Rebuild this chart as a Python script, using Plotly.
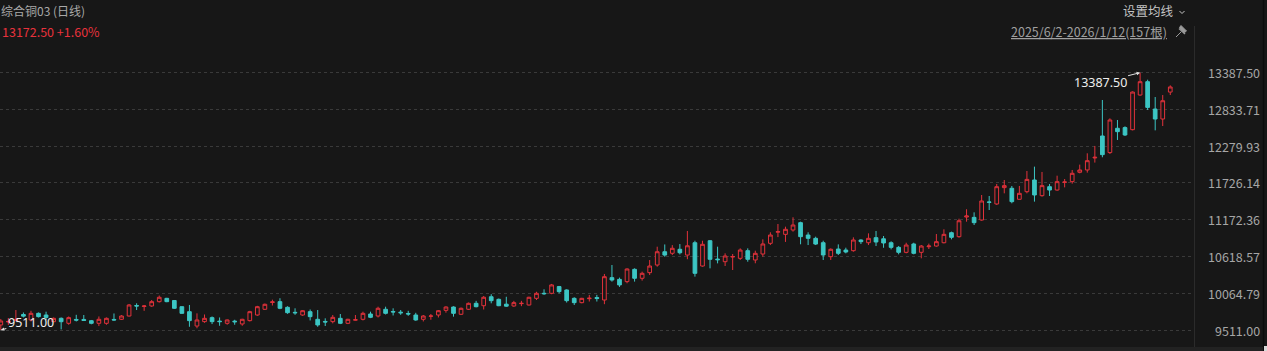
import plotly.graph_objects as go

# ---- data (OHLC; index 0 is the first bar, just off the left edge) ----
opens = [9620,
 9587, 9632, 9655, 9745, 9662, 9762, 9737, 9636, 9687, 9612,
 9670, 9670, 9651, 9612, 9612, 9670, 9672, 9722, 9880, 9865,
 9873, 9938, 9988, 9955, 9862, 9787, 9571, 9637, 9697, 9645,
 9612, 9645, 9602, 9652, 9737, 9823, 9925, 9938, 9853, 9777,
 9737, 9787, 9672, 9640, 9637, 9687, 9612, 9660, 9672, 9752,
 9722, 9823, 9790, 9780, 9760, 9737, 9672, 9718, 9737, 9807,
 9857, 9748, 9823, 9913, 9877, 10012, 9973, 9900, 9873, 9908,
 9888, 9988, 10064, 10064, 10165, 10114, 9988, 9923, 9983, 10000,
 9963, 10300, 10274, 10240, 10425, 10290, 10375, 10490, 10690, 10667,
 10727, 10640, 10826, 10475, 10856, 10580, 10540, 10610, 10591, 10706,
 10566, 10656, 10817, 10985, 10952, 11018, 11128, 10942, 10892, 10826,
 10616, 10731, 10716, 10706, 10867, 10826, 10902, 10885, 10826, 10756,
 10681, 10807, 10681, 10766, 10776, 10826, 10977, 10917, 11213, 11208,
 11168, 11440, 11410, 11656, 11646, 11480, 11595, 11771, 11535, 11670,
 11620, 11736, 11746, 11887, 11922, 12103, 12434, 12184, 12550, 12560,
 12529, 13051, 13252, 12840, 12690, 13096]
highs = [9650,
 9677, 9692, 9812, 9775, 9800, 9775, 9787, 9700, 9700, 9715,
 9740, 9737, 9662, 9715, 9700, 9760, 9735, 9903, 9913, 9888,
 9963, 10030, 9995, 9963, 9868, 9888, 9762, 9745, 9715, 9700,
 9670, 9665, 9680, 9800, 9875, 9910, 9968, 9990, 9868, 9838,
 9810, 9820, 9812, 9687, 9737, 9752, 9680, 9737, 9787, 9787,
 9862, 9862, 9838, 9812, 9800, 9770, 9737, 9752, 9812, 9868,
 9868, 9850, 9925, 9950, 10023, 10050, 9985, 10012, 9950, 9950,
 10012, 10087, 10124, 10205, 10175, 10124, 10004, 9995, 10040, 10040,
 10355, 10490, 10300, 10440, 10440, 10390, 10565, 10766, 10800, 10790,
 10806, 11003, 10856, 10856, 10866, 10766, 10666, 10656, 10741, 10741,
 10706, 10877, 10983, 11108, 11068, 11209, 11143, 10983, 10917, 10856,
 10741, 10801, 10751, 10907, 10877, 10967, 11003, 10927, 10847, 10776,
 10826, 10826, 10791, 10812, 10957, 11028, 10993, 11188, 11330, 11284,
 11545, 11530, 11711, 11771, 11681, 11681, 11907, 11972, 11892, 11711,
 11836, 11786, 11922, 12003, 12173, 12284, 12976, 12700, 12675, 12580,
 13106, 13387.5, 13282, 13021, 13051, 13197]
lows = [9560,
 9511, 9587, 9640, 9700, 9640, 9700, 9662, 9625, 9520, 9590,
 9640, 9650, 9597, 9570, 9590, 9650, 9662, 9715, 9812, 9800,
 9860, 9925, 9930, 9828, 9755, 9560, 9537, 9620, 9600, 9575,
 9590, 9590, 9575, 9640, 9725, 9812, 9880, 9825, 9755, 9740,
 9725, 9655, 9560, 9571, 9611, 9600, 9600, 9655, 9655, 9690,
 9700, 9745, 9730, 9740, 9725, 9650, 9640, 9665, 9700, 9772,
 9712, 9737, 9812, 9852, 9820, 9913, 9870, 9860, 9860, 9870,
 9880, 9963, 10040, 10050, 10064, 9925, 9888, 9913, 9940, 9940,
 9900, 10240, 10160, 10215, 10240, 10255, 10340, 10465, 10615, 10640,
 10650, 10577, 10315, 10465, 10440, 10515, 10475, 10415, 10566, 10540,
 10516, 10616, 10791, 10911, 10838, 10993, 10802, 10791, 10791, 10566,
 10566, 10641, 10666, 10691, 10806, 10791, 10776, 10750, 10726, 10651,
 10666, 10651, 10591, 10731, 10766, 10816, 10877, 10902, 11143, 11093,
 11158, 11319, 11395, 11570, 11420, 11480, 11570, 11445, 11520, 11530,
 11610, 11660, 11716, 11872, 11882, 12033, 12113, 12163, 12374, 12434,
 12519, 13041, 12826, 12519, 12584, 13051]
closes = [9600,
 9647, 9640, 9670, 9720, 9762, 9712, 9700, 9687, 9636, 9697,
 9660, 9655, 9612, 9672, 9687, 9662, 9722, 9888, 9872, 9873,
 9938, 10004, 9938, 9838, 9762, 9652, 9662, 9687, 9637, 9637,
 9662, 9635, 9672, 9787, 9862, 9898, 9935, 9838, 9772, 9770,
 9802, 9712, 9587, 9632, 9702, 9612, 9672, 9665, 9762, 9702,
 9838, 9762, 9783, 9770, 9752, 9662, 9722, 9722, 9802, 9857,
 9762, 9838, 9913, 9862, 10004, 9953, 9877, 9870, 9923, 9913,
 10004, 10064, 10058, 10190, 10089, 9953, 9923, 9988, 9990, 9985,
 10314, 10264, 10190, 10430, 10290, 10365, 10475, 10690, 10640, 10742,
 10675, 10780, 10365, 10802, 10576, 10570, 10626, 10618, 10716, 10576,
 10666, 10807, 10942, 10992, 11028, 11093, 10917, 10892, 10806, 10641,
 10727, 10666, 10686, 10867, 10842, 10892, 10837, 10822, 10756, 10681,
 10791, 10666, 10776, 10776, 10842, 10952, 10907, 11157, 11228, 11128,
 11455, 11435, 11670, 11686, 11445, 11570, 11780, 11545, 11686, 11620,
 11746, 11741, 11872, 11922, 12062, 12113, 12153, 12675, 12499, 12449,
 13096, 13252, 12865, 12690, 12965, 13172.5]
bars = list(range(len(closes)))

y_ticks = [9511.00, 10064.79, 10618.57, 11172.36, 11726.14, 12279.93, 12833.71, 13387.50]
y_tick_labels = ["9511.00", "10064.79", "10618.57", "11172.36", "11726.14", "12279.93", "12833.71", "13387.50"]

title_text = "综合铜03 (日线)"
price_text = "13172.50 +1.60%"
range_text = "2025/6/2-2026/1/12(157根)"
ma_text = "设置均线"

# ---- styling / layout ----
BG = "#171717"
RED = "#e2323b"
TEAL = "#3cc6c4"
W, H = 1267, 351
ML, MR, MT, MB = 0, 72, 55, 6
PW = W - ML - MR
PH = H - MT - MB

def px(X):
    return (X - ML) / PW

def py(Y):
    return (H - MB - Y) / PH

fig = go.Figure()
fig.add_trace(go.Candlestick(
    x=bars, open=opens, high=highs, low=lows, close=closes,
    increasing=dict(line=dict(color=RED, width=1), fillcolor=BG),
    decreasing=dict(line=dict(color=TEAL, width=1), fillcolor=TEAL),
    whiskerwidth=0, hoverinfo="skip", showlegend=False,
))

# y range so that 13387.50 -> y=72.7px and 9511 -> y=330px
top_px, bot_px = 72.7, 330.0
upp = (y_ticks[-1] - y_ticks[0]) / (bot_px - top_px)
y_top = y_ticks[-1] + (top_px - MT) * upp
y_bot = y_ticks[0] - (H - MB - bot_px) * upp

# x range: bar 1 at x=0.8px, spacing 7.545px
sp = 7.545
x_left = 1 - 0.8 / sp
x_right = x_left + PW / sp

font_main = "Noto Sans CJK SC, Noto Sans, sans-serif"

fig.update_layout(
    width=W, height=H,
    margin=dict(l=ML, r=MR, t=MT, b=MB),
    paper_bgcolor=BG, plot_bgcolor=BG,
    font=dict(family=font_main, size=12, color="#a8a8a8"),
    showlegend=False,
    xaxis=dict(range=[x_left, x_right], showgrid=False, zeroline=False,
               showticklabels=False, showline=False, ticks="",
               rangeslider=dict(visible=False), fixedrange=True),
    yaxis=dict(range=[y_bot, y_top], side="right", tickvals=y_ticks,
               showticklabels=False, showgrid=True, gridcolor="#3a3a3a",
               griddash="dot", gridwidth=1, zeroline=False, showline=False,
               ticks="", fixedrange=True),
)

ann = []
# y tick labels, right aligned
for v, lab in zip(y_ticks, y_tick_labels):
    ann.append(dict(x=px(1262), xref="paper", y=v, yref="y", text=lab,
                    showarrow=False, xanchor="right", yanchor="middle",
                    font=dict(size=12.5, color="#a6a6a6")))
# header texts
ann.append(dict(x=px(-1), xref="paper", y=py(11), yref="paper", text=title_text,
                showarrow=False, xanchor="left", yanchor="middle",
                font=dict(size=12, color="#a9a9a9")))
ann.append(dict(x=px(0), xref="paper", y=py(31), yref="paper", text=price_text,
                showarrow=False, xanchor="left", yanchor="middle",
                font=dict(size=12.5, color="#e8323c")))
ann.append(dict(x=px(1176), xref="paper", y=py(11), yref="paper", text=ma_text,
                showarrow=False, xanchor="right", yanchor="middle",
                font=dict(size=12.5, color="#c4c4c4")))
ann.append(dict(x=px(1169), xref="paper", y=py(31), yref="paper",
                text="<u>" + range_text + "</u>",
                showarrow=False, xanchor="right", yanchor="middle",
                font=dict(size=12.5, color="#a0a0a0")))

# max / min labels
imax = max(bars, key=lambda i: highs[i])
imin = min(bars, key=lambda i: lows[i])
ann.append(dict(x=bars[imax], y=highs[imax], xref="x", yref="y",
                text=f"{highs[imax]:.2f}", showarrow=True, ax=-40, ay=10,
                arrowhead=2, arrowsize=0.7, arrowwidth=1, arrowcolor="#e0e0e0",
                font=dict(size=12.5, color="#eeeeee", family="Noto Sans, sans-serif")))
ann.append(dict(x=bars[imin], y=lows[imin], xref="x", yref="y",
                text=f"{lows[imin]:.2f}", showarrow=True, ax=30, ay=-8,
                arrowhead=2, arrowsize=0.7, arrowwidth=1, arrowcolor="#e0e0e0",
                font=dict(size=12.5, color="#eeeeee", family="Noto Sans, sans-serif")))
fig.update_layout(annotations=ann)

def P(X, Y):
    return f"{px(X)},{py(Y)}"

shapes = [
    # separator between plot and axis
    dict(type="line", xref="paper", yref="paper", x0=px(1194.5), x1=px(1194.5),
         y0=py(26), y1=py(351), line=dict(color="#2b2b2b", width=1)),
    # right border
    dict(type="line", xref="paper", yref="paper", x0=px(1263.5), x1=px(1263.5),
         y0=py(0), y1=py(351), line=dict(color="#0c0c0c", width=1.5)),
    # bottom strip
    dict(type="rect", xref="paper", yref="paper", x0=px(0), x1=px(1263),
         y0=py(351), y1=py(347), fillcolor="#222222", line=dict(width=0)),
    dict(type="rect", xref="paper", yref="paper", x0=px(1264), x1=px(1267),
         y0=py(351), y1=py(346), fillcolor="#d8d8d8", line=dict(width=0)),
    # chevron next to 设置均线
    dict(type="path", xref="paper", yref="paper",
         path=f"M {P(1179.5,11)} L {P(1182,13.5)} L {P(1184.5,11)}",
         line=dict(color="#c4c4c4", width=1)),
    # pin icon
    dict(type="path", xref="paper", yref="paper",
         path=f"M {P(1181,25.5)} L {P(1186.5,31)} L {P(1184.5,32.5)} L {P(1179.5,27.5)} Z",
         fillcolor="#9a9a9a", line=dict(color="#9a9a9a", width=1)),
    dict(type="path", xref="paper", yref="paper",
         path=f"M {P(1179,28.5)} L {P(1185,34)}",
         line=dict(color="#9a9a9a", width=1.5)),
    dict(type="path", xref="paper", yref="paper",
         path=f"M {P(1181.5,31.5)} L {P(1176,37)}",
         line=dict(color="#9a9a9a", width=1)),
]
fig.update_layout(shapes=shapes)

fig.write_html("out.html")
